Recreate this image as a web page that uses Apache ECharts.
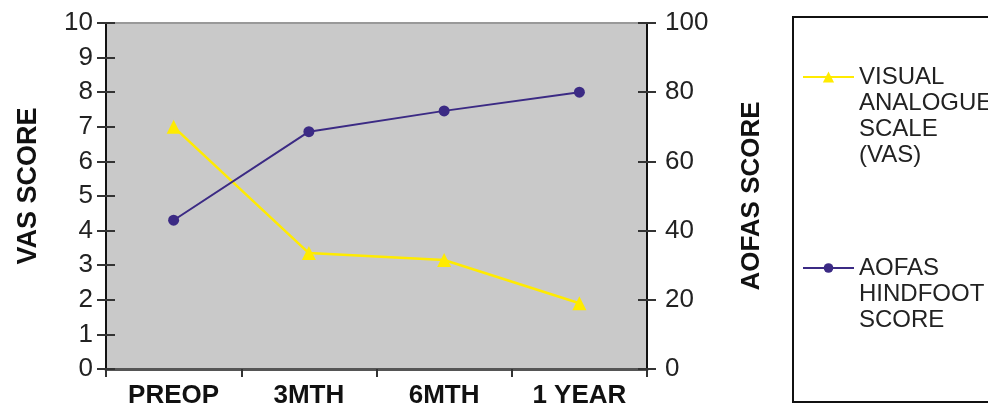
<!DOCTYPE html>
<html><head><meta charset="utf-8">
<script src="https://cdn.jsdelivr.net/npm/echarts@6/dist/echarts.min.js"></script>
<style>html,body{margin:0;padding:0;background:#fff}#c{width:988px;height:409px}</style>
</head><body><div id="c"></div>
<script>
var categories = ['PREOP', '3MTH', '6MTH', '1 YEAR'];
var vasValues = [7.0, 3.35, 3.15, 1.9];
var aofasValues = [43, 68.6, 74.6, 80];
var vasName = 'VISUAL\nANALOGUE\nSCALE\n(VAS)';
var aofasName = 'AOFAS\nHINDFOOT\nSCORE';

var F = '"Liberation Sans", Arial, sans-serif';
var chart = echarts.init(document.getElementById('c'));
function yAx(pos, min, max, step, extra) {
  return Object.assign({
    type: 'value', position: pos, min: min, max: max, interval: step,
    splitLine: { show: false },
    axisLine: { show: true, lineStyle: { color: '#111', width: 2 } },
    axisTick: { show: true, length: 9, lineStyle: { color: '#333', width: 2 } },
    axisLabel: { fontFamily: F, fontSize: 26, color: '#222', margin: 13 }
  }, extra || {});
}
var legText = { fontFamily: F, fontSize: 24, color: '#222', lineHeight: 26 };
chart.setOption({
  animation: false,
  grid: { left: 106, right: 341, top: 23, bottom: 40, show: true, backgroundColor: '#c9c9c9', borderColor: '#999', borderWidth: 2 },
  graphic: [{ type: 'rect', shape: { x: 793, y: 17, width: 210, height: 385 }, style: { fill: '#fff', stroke: '#111', lineWidth: 2 }, z: -1 }],
  legend: [
    { data: [vasName], orient: 'vertical', left: 802, top: -14, padding: 0, itemWidth: 51, itemHeight: 14,
      formatter: function (n) { return '\n\n\n' + n; }, textStyle: legText },
    { data: [aofasName], orient: 'vertical', left: 802, top: 203, padding: 0, itemWidth: 51, itemHeight: 12,
      formatter: function (n) { return '\n\n' + n; }, textStyle: legText }
  ],
  xAxis: {
    type: 'category', data: categories, boundaryGap: true,
    axisLine: { lineStyle: { color: '#555', width: 3 } },
    axisTick: { show: true, length: 8, lineStyle: { color: '#333', width: 2 } },
    axisLabel: { fontFamily: F, fontSize: 26, fontWeight: 'bold', color: '#111', margin: 14 }
  },
  yAxis: [
    yAx('left', 0, 10, 1, { name: 'VAS SCORE', nameLocation: 'middle', nameRotate: 90, nameGap: 64,
      nameTextStyle: { fontFamily: F, fontSize: 27, fontWeight: 'bold', color: '#111', padding: [0, 0, 0, 20] } }),
    yAx('right', 0, 100, 20, { name: 'AOFAS SCORE', nameLocation: 'middle', nameRotate: 90, nameGap: 92,
      nameTextStyle: { fontFamily: F, fontSize: 26, fontWeight: 'bold', color: '#111' },
      axisLabel: { fontFamily: F, fontSize: 26, color: '#222', margin: 18 } }),
    yAx('left', 0, 10, 1, { axisLine: { show: false }, axisLabel: { show: false }, axisTick: { show: true, inside: true, length: 9, lineStyle: { color: '#333', width: 2 } } }),
    yAx('right', 0, 100, 20, { axisLine: { show: false }, axisLabel: { show: false }, axisTick: { show: true, inside: true, length: 9, lineStyle: { color: '#333', width: 2 } } })
  ],
  series: [
    { name: vasName, type: 'line', yAxisIndex: 0, data: vasValues, symbol: 'triangle', symbolSize: 14,
      lineStyle: { color: '#ffeb00', width: 2.5 }, itemStyle: { color: '#ffeb00' }, z: 3 },
    { name: aofasName, type: 'line', yAxisIndex: 1, data: aofasValues, symbol: 'circle', symbolSize: 11,
      lineStyle: { color: '#3b2a84', width: 2 }, itemStyle: { color: '#3b2a84' }, z: 4 }
  ]
});
</script></body></html>
